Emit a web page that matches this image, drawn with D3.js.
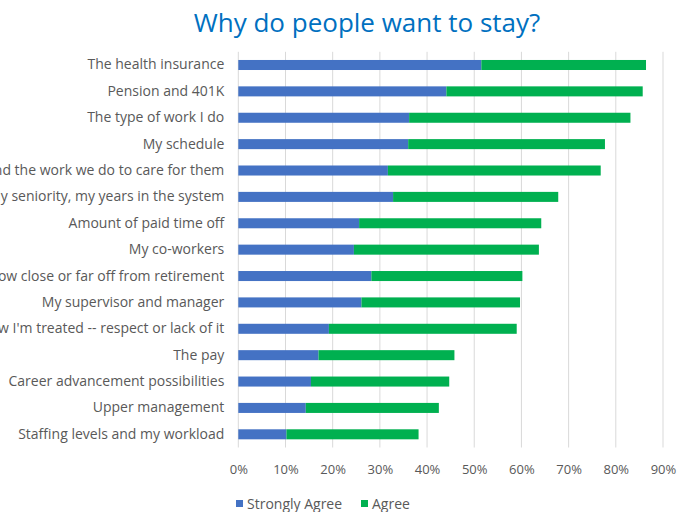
<!DOCTYPE html>
<html>
<head>
<meta charset="utf-8">
<script src="https://cdn.jsdelivr.net/npm/d3@7"></script>
<style>
  body { margin: 0; background: #fff; }
  svg { font-family: "Open Sans", sans-serif; }
</style>
</head>
<body>
<svg width="689" height="512"></svg>
<script>
// reasons, top to bottom
var reasons = [
    "The health insurance",
    "Pension and 401K",
    "The type of work I do",
    "My schedule",
    "The people we serve and the work we do to care for them",
    "My seniority, my years in the system",
    "Amount of paid time off",
    "My co-workers",
    "How close or far off from retirement",
    "My supervisor and manager",
    "How I'm treated -- respect or lack of it",
    "The pay",
    "Career advancement possibilities",
    "Upper management",
    "Staffing levels and my workload"
];
var stronglyAgree = [0.515, 0.441, 0.362, 0.360, 0.317, 0.328, 0.256, 0.245, 0.282, 0.261, 0.192, 0.170, 0.154, 0.143, 0.102];
var agree         = [0.349, 0.416, 0.469, 0.417, 0.451, 0.350, 0.386, 0.392, 0.320, 0.336, 0.398, 0.288, 0.293, 0.282, 0.280];
var ticks = [0, 0.1, 0.2, 0.3, 0.4, 0.5, 0.6, 0.7, 0.8, 0.9];
var seriesNames = ["Strongly Agree", "Agree"];
var colours = ["#4472C4", "#00B050"];

var svg = d3.select("svg");

svg.append("text")
    .attr("x", 367)
    .attr("y", 32)
    .attr("text-anchor", "middle")
    .attr("fill", "#0070C0")
    .style("font-size", "26px")
    .text("Why do people want to stay?");

var x = d3.scaleLinear().domain([0, 0.9]).range([238.3, 663]);
var y = d3.scaleBand().domain(reasons).range([51.8, 447.5]).paddingInner(0.62).paddingOuter(0.31);

// gridlines
svg.append("g")
    .selectAll("line")
    .data(ticks)
    .enter().append("line")
    .attr("x1", function(d) { return x(d); })
    .attr("x2", function(d) { return x(d); })
    .attr("y1", 51.8)
    .attr("y2", 447.5)
    .attr("stroke", "#D9D9D9")
    .attr("stroke-width", 1);

// stack the two series
var rows = reasons.map(function(r, i) {
    return {reason: r, "Strongly Agree": stronglyAgree[i], "Agree": agree[i]};
});
var stacked = d3.stack().keys(seriesNames)(rows);

svg.append("g")
    .selectAll("g")
    .data(stacked)
    .enter().append("g")
    .attr("fill", function(d, i) { return colours[i]; })
    .selectAll("rect")
    .data(function(d) { return d; })
    .enter().append("rect")
    .attr("x", function(d) { return x(d[0]); })
    .attr("width", function(d) { return x(d[1]) - x(d[0]); })
    .attr("y", function(d) { return y(d.data.reason); })
    .attr("height", y.bandwidth());

// category labels (long ones run off the left edge, as in the original)
var yAxis = svg.append("g")
    .attr("transform", "translate(238.3,0)")
    .call(d3.axisLeft(y).tickSize(0).tickPadding(14));
yAxis.select(".domain").remove();
yAxis.selectAll("text")
    .attr("fill", "#595959")
    .style("font-size", "14px")
    .style("font-family", "'Open Sans', sans-serif");

// x axis labels
var xAxis = svg.append("g")
    .attr("transform", "translate(0,462)")
    .call(d3.axisBottom(x).tickValues(ticks).tickFormat(d3.format(".0%")).tickSize(0));
xAxis.select(".domain").remove();
xAxis.selectAll("text")
    .attr("fill", "#595959")
    .style("font-size", "13px")
    .style("font-family", "'Open Sans', sans-serif");

// legend
var legend = svg.append("g").attr("transform", "translate(236,500)");
var lx = [0, 125];
seriesNames.forEach(function(name, i) {
    legend.append("rect")
        .attr("x", lx[i])
        .attr("y", 0)
        .attr("width", 7)
        .attr("height", 7)
        .attr("fill", colours[i]);
    legend.append("text")
        .attr("x", lx[i] + 11)
        .attr("y", 9)
        .attr("fill", "#595959")
        .style("font-size", "14px")
        .text(name);
});
</script>
</body>
</html>
